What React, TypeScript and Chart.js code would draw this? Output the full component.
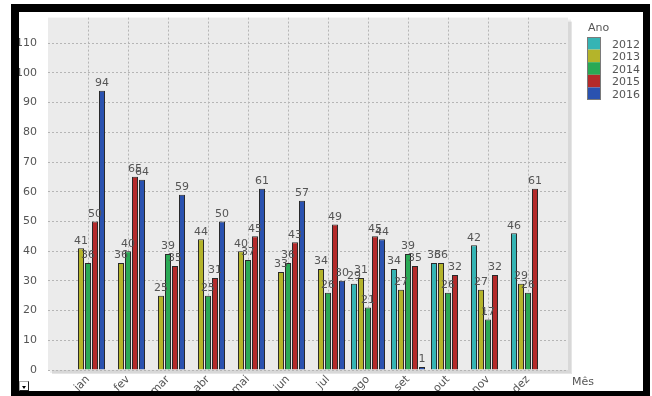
import React, { useEffect, useRef } from "react";
import { Chart, registerables } from "chart.js";

Chart.register(...registerables);

const months = ["jan", "fev", "mar", "abr", "mai", "jun", "jul", "ago", "set", "out", "nov", "dez"];
const years = ["2012", "2013", "2014", "2015", "2016"];
const v2012: (number | null)[] = [null, null, null, null, null, null, null, 29, 34, 36, 42, 46];
const v2013: (number | null)[] = [41, 36, 25, 44, 40, 33, 34, 31, 27, 36, 27, 29];
const v2014: (number | null)[] = [36, 40, 39, 25, 37, 36, 26, 21, 39, 26, 17, 26];
const v2015: (number | null)[] = [50, 65, 35, 31, 45, 43, 49, 45, 35, 32, 32, 61];
const v2016: (number | null)[] = [94, 64, 59, 50, 61, 57, 30, 44, 1, null, null, null];
const yMax = 118.6;
const yStep = 10;
const xTitle = "Mês";
const legendTitle = "Ano";

const seriesValues = [v2012, v2013, v2014, v2015, v2016];
const colors = ["#35b4b4", "#b4b42a", "#2aa955", "#b42a2a", "#2a52b0"];
const textColor = "#555555";
const FONT = "DejaVu Sans";

export default function App() {
  const ref = useRef<HTMLCanvasElement | null>(null);

  useEffect(() => {
    if (!ref.current) return;
    const labels = ["", ...months, ""];
    const datasets = years.map((y, i) => ({
      label: y,
      data: [null, ...seriesValues[i], null],
      backgroundColor: colors[i],
      borderColor: "#2a2a2a",
      borderWidth: 1,
      categoryPercentage: 0.875,
      barPercentage: 0.86,
    }));

    const bgPlugin = {
      id: "bgPlugin",
      beforeDraw(chart: any) {
        const { ctx, chartArea: a } = chart;
        ctx.save();
        ctx.fillStyle = "rgba(0,0,0,0.10)";
        ctx.fillRect(a.left + 4, a.top + 4, a.right - a.left, a.bottom - a.top);
        ctx.fillStyle = "rgba(0,0,0,0.06)";
        ctx.fillRect(a.left + 2, a.top + 2, a.right - a.left + 1, a.bottom - a.top + 1);
        ctx.fillStyle = "#ebebeb";
        ctx.fillRect(a.left, a.top, a.right - a.left, a.bottom - a.top);
        ctx.restore();
      },
    };

    const labelPlugin = {
      id: "labelPlugin",
      afterDatasetsDraw(chart: any) {
        const { ctx } = chart;
        ctx.save();
        ctx.font = `11px "${FONT}"`;
        ctx.fillStyle = textColor;
        ctx.textAlign = "center";
        ctx.textBaseline = "bottom";
        chart.data.datasets.forEach((ds: any, di: number) => {
          const meta = chart.getDatasetMeta(di);
          meta.data.forEach((el: any, idx: number) => {
            const v = ds.data[idx];
            if (v === null || v === undefined) return;
            ctx.fillText(String(v), el.x, el.y - 2);
          });
        });
        ctx.restore();
      },
      afterDraw(chart: any) {
        const { ctx } = chart;
        ctx.save();
        ctx.font = `11px "${FONT}"`;
        ctx.fillStyle = textColor;
        ctx.textAlign = "left";
        ctx.textBaseline = "alphabetic";
        ctx.fillText(xTitle, 572, 385);
        ctx.fillText(legendTitle, 588, 31);
        const bx = 587;
        const by = 37;
        const bh = 12.6;
        years.forEach((y, i) => {
          ctx.fillStyle = colors[i];
          ctx.fillRect(bx, by + i * bh, 14, bh);
          ctx.fillStyle = textColor;
          ctx.fillText(y, 612, by + i * bh + 10.5);
        });
        ctx.strokeStyle = "#7a7a7a";
        ctx.lineWidth = 1;
        ctx.strokeRect(bx + 0.5, by + 0.5, 13, bh * 5 - 1);
        ctx.restore();
      },
    };

    const chart = new Chart(ref.current, {
      type: "bar",
      data: { labels, datasets },
      options: {
        responsive: false,
        animation: false,
        devicePixelRatio: 1,
        layout: { padding: { top: 15, right: 84, left: 0, bottom: 0 } },
        plugins: {
          legend: { display: false },
          tooltip: { enabled: false },
        },
        scales: {
          x: {
            type: "category",
            offset: false,
            grid: {
              offset: false,
              drawTicks: false,
              color: (c: any) => (c.index === 0 || c.index === labels.length - 1 ? "rgba(0,0,0,0)" : "#b5b5b5"),
              lineWidth: 1,
            },
            border: { display: false, dash: [2, 2] },
            ticks: {
              autoSkip: false,
              maxRotation: 45,
              minRotation: 45,
              padding: 3,
              color: textColor,
              font: { family: FONT, size: 11 },
            },
            afterFit(s: any) {
              s.height = 26;
            },
          },
          y: {
            min: 0,
            max: yMax,
            grid: { drawTicks: false, color: "#b5b5b5", lineWidth: 1 },
            border: { display: false, dash: [2, 2] },
            ticks: {
              stepSize: yStep,
              includeBounds: false,
              padding: 11,
              color: textColor,
              font: { family: FONT, size: 11 },
            },
            afterFit(s: any) {
              s.width = 48;
            },
          },
        },
      },
      plugins: [bgPlugin, labelPlugin],
    } as any);
    return () => chart.destroy();
  }, []);

  return (
    <div style={{ position: "absolute", left: 0, top: 0, width: 652, height: 396, background: "#ffffff", overflow: "hidden" }}>
      <canvas ref={ref} width={652} height={396} style={{ position: "absolute", left: 0, top: 0, width: 652, height: 396 }} />
      <div
        style={{
          position: "absolute",
          left: 11,
          top: 4,
          width: 639,
          height: 392,
          boxSizing: "border-box",
          borderStyle: "solid",
          borderColor: "#000",
          borderWidth: "8px 7px 5px 8px",
          pointerEvents: "none",
        }}
      />
      <div
        style={{
          position: "absolute",
          left: 19,
          top: 381,
          width: 10,
          height: 10,
          boxSizing: "border-box",
          background: "#fff",
          borderTop: "1px solid #aaa",
          borderLeft: "1px solid #aaa",
          borderRight: "1px solid #222",
          borderBottom: "1px solid #222",
        }}
      >
        <div
          style={{
            position: "absolute",
            left: 2,
            top: 4,
            width: 0,
            height: 0,
            borderLeft: "2px solid transparent",
            borderRight: "2px solid transparent",
            borderTop: "3px solid #000",
          }}
        />
      </div>
    </div>
  );
}
